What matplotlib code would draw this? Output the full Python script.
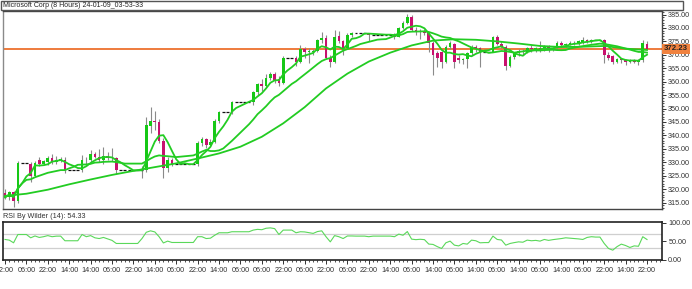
import matplotlib.pyplot as plt
import matplotlib.patches as mpatches
from matplotlib import font_manager
from matplotlib.ticker import MultipleLocator, FormatStrFormatter
import numpy as np
import pandas as pd

# narrow font if the machine has it, otherwise a smaller Liberation Sans
try:
    font_manager.findfont('Liberation Sans Narrow', fallback_to_default=False)
    plt.rcParams['font.family'] = ['Liberation Sans Narrow', 'DejaVu Sans']
    fs, fs_title = 5.8, 5.6
except ValueError:
    plt.rcParams['font.family'] = ['Liberation Sans', 'DejaVu Sans']
    fs, fs_title = 5.2, 5.0

title = "Microsoft Corp (8 Hours) 24-01-09_03-53-33"
last_price = 372.23
rsi_label = "RSI By Wilder (14): 54.33"

# 8-hour bars
opens = [318.5, 317.0, 318.8, 315.5, 329.8, 329.8, 329.5, 325.0, 330.8, 329.5,
         330.0, 331.5, 330.0, 331.0, 331.0, 327.0, 327.0, 327.0, 327.0, 330.7,
         331.0, 333.0, 332.0, 331.0, 332.5, 331.5, 331.5, 327.0, 327.0, 327.0,
         327.0, 327.0, 327.0, 327.0, 343.5, 345.5, 345.0, 338.0, 328.0, 331.0,
         329.3, 329.3, 329.3, 329.3, 329.3, 329.3, 337.0, 338.5, 336.5, 337.5,
         345.5, 348.7, 348.7, 348.7, 352.5, 352.5, 352.5, 352.5, 352.5, 356.0,
         359.0, 358.5, 361.5, 363.0, 361.0, 359.5, 369.0, 369.0, 369.0, 367.5,
         372.0, 371.0, 371.0, 371.5, 375.6, 376.4, 369.0, 367.4, 377.0, 375.0,
         372.5, 377.5, 378.0, 378.0, 378.0, 378.0, 377.5, 377.5, 377.5, 377.5,
         377.5, 377.5, 376.8, 380.0, 382.0, 384.2, 379.4, 378.5, 379.0, 378.3,
         374.5, 370.5, 371.0, 367.5, 373.0, 374.0, 369.0, 368.0, 368.3, 370.5,
         373.0, 372.5, 371.2, 371.2, 371.2, 376.5, 374.0, 373.0, 366.0, 369.3,
         370.5, 371.5, 371.0, 372.6, 372.0, 372.5, 372.0, 373.0, 372.0, 372.5,
         374.5, 373.5, 374.0, 374.5, 374.0, 374.5, 375.6, 375.0, 375.6, 375.6,
         375.6, 370.0, 369.5, 367.4, 368.5, 368.0, 367.5, 368.0, 367.5, 368.0,
         374.0]
highs = [320.0, 319.5, 319.5, 330.5, 329.8, 329.8, 330.0, 330.5, 332.0, 331.0,
         332.5, 333.0, 332.5, 332.0, 332.0, 327.0, 327.0, 327.0, 332.6, 332.0,
         334.5, 334.0, 335.0, 335.6, 334.0, 335.5, 332.0, 327.0, 327.0, 327.0,
         327.0, 327.0, 328.5, 347.0, 350.6, 349.0, 346.0, 339.0, 332.0, 331.5,
         329.3, 329.3, 329.3, 329.3, 329.3, 338.0, 339.5, 339.0, 338.5, 346.0,
         349.0, 348.7, 348.7, 353.0, 352.5, 352.5, 352.5, 352.5, 356.5, 359.5,
         361.0, 363.0, 363.5, 363.5, 362.0, 369.5, 369.0, 369.0, 369.5, 373.5,
         373.0, 372.5, 372.0, 376.0, 378.6, 377.5, 370.0, 379.4, 379.0, 375.5,
         378.0, 378.5, 378.0, 378.0, 378.0, 378.0, 377.5, 377.5, 377.5, 377.5,
         377.5, 378.0, 380.5, 382.5, 385.2, 385.0, 380.5, 379.5, 379.5, 378.5,
         375.0, 371.5, 371.5, 373.5, 375.0, 374.5, 370.0, 369.0, 371.0, 373.5,
         373.5, 373.0, 371.2, 371.2, 377.0, 377.5, 375.0, 373.5, 369.8, 371.0,
         372.0, 372.0, 373.0, 373.5, 373.0, 375.0, 373.5, 373.5, 373.0, 375.0,
         375.0, 374.5, 375.0, 375.0, 375.5, 376.5, 376.0, 376.0, 375.6, 375.6,
         376.0, 371.0, 370.0, 369.0, 369.0, 368.5, 368.5, 368.5, 368.5, 375.5,
         375.0]
lows = [316.5, 316.0, 313.5, 315.0, 329.8, 329.8, 322.5, 324.5, 328.5, 329.0,
        329.0, 329.5, 329.5, 330.0, 326.0, 327.0, 327.0, 327.0, 326.5, 329.0,
        330.0, 331.5, 330.0, 329.5, 331.0, 330.5, 325.5, 327.0, 327.0, 327.0,
        327.0, 327.0, 324.0, 326.5, 341.0, 342.0, 337.0, 324.0, 326.5, 328.5,
        329.3, 329.3, 329.3, 329.3, 329.3, 328.5, 336.0, 335.5, 336.0, 337.0,
        344.5, 348.7, 348.7, 348.0, 352.5, 352.5, 352.5, 352.5, 351.5, 355.0,
        356.5, 358.0, 360.5, 359.5, 358.5, 359.0, 369.0, 369.0, 366.0, 367.0,
        369.0, 367.0, 370.0, 371.0, 374.5, 368.5, 365.5, 367.0, 374.5, 370.0,
        372.0, 376.5, 378.0, 378.0, 378.0, 375.0, 377.5, 377.5, 377.5, 377.5,
        377.5, 376.0, 376.5, 379.5, 381.5, 379.0, 377.5, 376.0, 377.5, 371.0,
        362.5, 365.5, 365.0, 367.0, 372.0, 365.0, 367.0, 366.5, 365.0, 370.0,
        371.0, 365.5, 371.2, 371.2, 371.0, 373.5, 372.5, 364.4, 365.5, 368.5,
        369.5, 370.0, 370.5, 371.0, 371.0, 371.0, 371.5, 371.0, 371.5, 372.0,
        373.0, 373.0, 373.5, 373.5, 373.5, 374.0, 374.5, 374.5, 375.6, 375.6,
        367.0, 368.0, 366.5, 367.0, 367.0, 366.3, 367.0, 367.0, 366.3, 367.5,
        372.0]
closes = [317.0, 318.8, 315.5, 329.8, 329.8, 329.8, 325.0, 329.8, 329.5, 330.5,
          331.5, 330.0, 331.0, 331.3, 327.0, 327.0, 327.0, 327.0, 330.7, 331.0,
          333.0, 332.0, 331.0, 332.5, 331.5, 332.0, 327.0, 327.0, 327.0, 327.0,
          327.0, 327.0, 327.0, 344.0, 345.5, 345.0, 338.0, 328.0, 331.0, 329.3,
          329.3, 329.3, 329.3, 329.3, 329.3, 337.0, 338.5, 336.5, 337.5, 345.5,
          348.7, 348.7, 348.7, 352.5, 352.5, 352.5, 352.5, 352.5, 356.0, 359.0,
          358.5, 361.5, 363.0, 360.5, 359.5, 369.0, 369.0, 369.0, 367.5, 372.0,
          371.0, 371.5, 371.5, 375.6, 376.4, 369.0, 367.4, 376.8, 375.0, 372.5,
          377.5, 378.0, 378.0, 378.0, 378.0, 377.5, 377.5, 377.5, 377.5, 377.5,
          377.5, 376.8, 380.0, 382.0, 384.2, 379.4, 378.5, 379.0, 378.3, 374.5,
          370.0, 369.0, 367.5, 373.0, 374.5, 367.5, 368.0, 368.3, 370.5, 373.0,
          372.0, 371.2, 371.2, 371.2, 376.5, 374.0, 373.0, 366.0, 369.3, 370.5,
          371.5, 371.0, 372.6, 372.0, 372.5, 372.0, 373.0, 372.0, 372.5, 374.5,
          373.5, 374.0, 374.5, 374.0, 375.0, 375.6, 375.0, 375.6, 375.6, 375.6,
          370.0, 369.0, 367.4, 368.5, 368.0, 367.5, 368.0, 367.5, 368.0, 374.5,
          372.23]

# slow moving average, every 5 bars
slow_ma_bars = list(range(0, 151, 5))
slow_ma = [317.5, 318.3, 319.8, 321.8, 323.6, 325.3, 326.8, 328.2, 329.6, 331.4,
           333.3, 335.8, 339.5, 344.5, 350.5, 357.5, 363.0, 367.5, 370.8, 373.5,
           375.3, 375.8, 375.6, 375.0, 374.2, 373.3, 372.9, 373.0, 373.3, 372.3,
           371.8]

rsi = [54.5, 52.7, 45.4, 68.0, 68.0, 68.0, 59.0, 64.0, 60.0, 62.0,
       65.0, 62.0, 63.5, 63.6, 51.0, 51.0, 51.0, 51.0, 68.0, 62.0,
       65.0, 59.0, 57.0, 60.0, 56.0, 52.0, 43.6, 43.6, 43.6, 43.6,
       43.6, 43.6, 57.0, 74.0, 78.0, 75.0, 62.0, 45.0, 50.0, 46.3,
       46.3, 46.3, 46.3, 46.3, 46.3, 62.0, 62.0, 57.0, 58.0, 66.0,
       72.7, 72.7, 72.7, 75.5, 75.5, 75.5, 75.5, 75.5, 80.0, 82.0,
       81.0, 85.0, 86.0, 84.0, 68.0, 80.0, 80.0, 80.0, 72.7, 75.5,
       75.0, 73.0, 71.0, 76.0, 78.0, 62.0, 48.0, 65.0, 62.0, 57.0,
       64.0, 64.0, 63.6, 63.6, 63.6, 62.0, 63.6, 63.6, 63.6, 63.6,
       63.6, 62.0, 69.0, 66.0, 76.0, 55.4, 54.0, 55.0, 54.0, 42.0,
       41.0, 35.0, 30.0, 45.4, 50.0, 39.0, 37.0, 43.6, 41.8, 52.7,
       51.0, 45.4, 46.0, 46.0, 63.6, 54.5, 53.0, 39.0, 43.6, 46.0,
       48.0, 47.0, 52.7, 51.0, 52.0, 50.0, 54.5, 52.0, 54.0, 55.4,
       57.0, 59.0, 58.0, 57.0, 56.0, 54.5, 60.0, 62.0, 61.0, 61.0,
       43.6, 30.0, 25.4, 35.0, 41.8, 38.0, 32.7, 37.0, 36.0, 62.0,
       54.33]

tick_labels = ["22:00", "06:00", "22:00", "14:00", "14:00", "06:00", "22:00", "14:00",
               "06:00", "22:00", "14:00", "06:00", "06:00", "22:00", "06:00", "22:00",
               "06:00", "22:00", "14:00", "06:00", "14:00", "06:00", "14:00", "06:00",
               "14:00", "06:00", "14:00", "06:00", "22:00", "14:00", "22:00"]

df = pd.DataFrame({'open': opens, 'high': highs, 'low': lows, 'close': closes, 'rsi': rsi})
x = np.arange(len(df))
# fast and middle moving averages of the close
ma_fast = df['close'].rolling(5, min_periods=1).mean()
ma_mid = df['close'].rolling(15, min_periods=1).mean()

W, H = 692, 289
fig = plt.figure(figsize=(W / 100, H / 100), dpi=100)


def box(x0, y0, x1, y1):
    return [x0 / W, 1 - y1 / H, (x1 - x0) / W, (y1 - y0) / H]


ax = fig.add_axes(box(3, 10.5, 662, 208.5))
ax_rsi = fig.add_axes(box(3, 222, 662, 259.5), sharex=ax)

up_col = '#16c816'
dn_col = '#c8106e'
wick_col = '#8a8a8a'
ma_col = '#22cc22'
txt_col = '#333333'

# candles
ax.vlines(x, df['low'], df['high'], color=wick_col, lw=0.8, zorder=2)
up = df['close'] > df['open']
dn = df['close'] < df['open']
flat = df['close'] == df['open']
ax.bar(x[up], (df['close'] - df['open'])[up], bottom=df['open'][up], width=0.62,
       color=up_col, lw=0, zorder=3)
ax.bar(x[dn], (df['open'] - df['close'])[dn], bottom=df['close'][dn], width=0.62,
       color=dn_col, lw=0, zorder=3)
ax.hlines(df['close'][flat], x[flat] - 0.33, x[flat] + 0.33, color='#111111', lw=0.9, zorder=3)

# moving averages
ax.plot(slow_ma_bars, slow_ma, color=ma_col, lw=1.3, zorder=4)
ax.plot(x, ma_mid, color=ma_col, lw=1.3, zorder=4)
ax.plot(x, ma_fast, color=ma_col, lw=1.3, zorder=4)

ax.axhline(last_price, color='#ee7b3c', lw=1.4, zorder=1.5)
ax.text(1.003, last_price, f"{last_price:.2f}", transform=ax.get_yaxis_transform(),
        ha='left', va='center', fontsize=fs + 0.4, fontweight='bold', color='#222222',
        bbox=dict(boxstyle='square,pad=0.2', fc='#f0823f', ec='none'), clip_on=False, zorder=6)

ax.set_xlim(-0.47, 153.5)
ax.set_ylim(312.8, 386.5)
ax.yaxis.tick_right()
ax.set_yticks(np.arange(315, 386, 5))
ax.yaxis.set_major_formatter(FormatStrFormatter('%.2f'))
ax.yaxis.set_minor_locator(MultipleLocator(1))
ax.tick_params(axis='y', which='major', labelsize=fs, colors=txt_col, length=3, width=0.7, pad=1.5)
ax.tick_params(axis='y', which='minor', length=1.5, width=0.6, colors=txt_col)
ax.tick_params(axis='x', which='both', bottom=False, labelbottom=False)
for side, col in (('top', '#444444'), ('bottom', '#444444'), ('right', '#444444'), ('left', '#8a8a8a')):
    ax.spines[side].set_color(col)
    ax.spines[side].set_linewidth(1.0)

# RSI panel
ax_rsi.axhline(70, color='#cfcfcf', lw=0.9, zorder=1)
ax_rsi.axhline(30, color='#cfcfcf', lw=0.9, zorder=1)
ax_rsi.plot(x, df['rsi'], color='#5ad85a', lw=0.8, zorder=2)
ax_rsi.set_ylim(0, 102)
ax_rsi.yaxis.tick_right()
ax_rsi.set_yticks([0, 50, 100])
ax_rsi.set_yticklabels(['0.00', '50.00', '100.00'])
ax_rsi.tick_params(axis='y', labelsize=fs, colors=txt_col, length=3, width=0.7, pad=1.5)
ax_rsi.set_xticks(np.arange(0, len(tick_labels) * 5, 5))
ax_rsi.set_xticklabels(tick_labels)
ax_rsi.xaxis.set_minor_locator(MultipleLocator(1))
ax_rsi.tick_params(axis='x', which='major', labelsize=fs, colors=txt_col, length=3, width=0.7, pad=2.5)
ax_rsi.tick_params(axis='x', which='minor', length=1.5, width=0.6, colors=txt_col)
for side in ax_rsi.spines:
    ax_rsi.spines[side].set_color('#222222')
    ax_rsi.spines[side].set_linewidth(1.2)

fig.text(3 / W, 1 - 216 / H, rsi_label, ha='left', va='center', fontsize=fs, color=txt_col)

# title bar
fig.patches.append(mpatches.Rectangle((0.5 / W, 1 - 10 / H), 682 / W, 9.5 / H,
                                      transform=fig.transFigure, fill=False,
                                      ec='#555555', lw=1.0))
fig.text(3 / W, 1 - 5.3 / H, title, ha='left', va='center', fontsize=fs_title, color='#222222')

fig.savefig('out.png', dpi=100)
